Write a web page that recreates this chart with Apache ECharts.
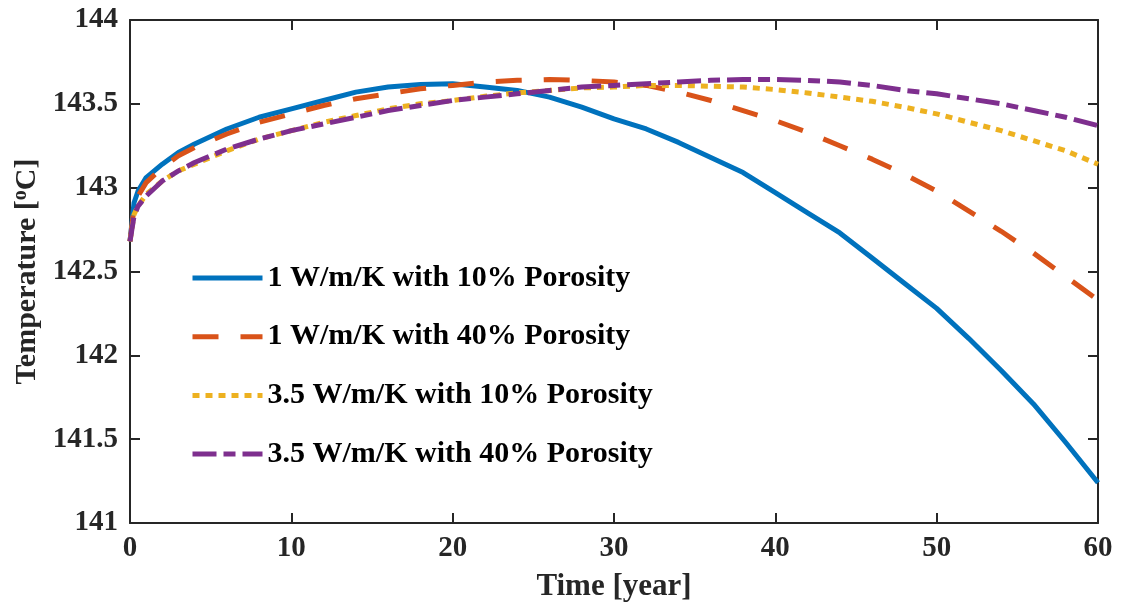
<!DOCTYPE html>
<html>
<head>
<meta charset="utf-8">
<script src="https://cdn.jsdelivr.net/npm/echarts@6/dist/echarts.min.js"></script>
<style>
html,body{margin:0;padding:0;background:#fff;}
#chart{width:1121px;height:612px;}
</style>
</head>
<body>
<div id="chart"></div>
<script>
const years = [0,0.25,0.5,1,2,3,4,6,8,10,12,14,16,18,20,22,24,26,28,30,32,34,36,38,40,42,44,46,48,50,52,54,56,58,60];
const k1p10 = [142.68,142.91,142.98,143.06,143.14,143.21,143.26,143.35,143.42,143.47,143.52,143.57,143.60,143.615,143.62,143.60,143.58,143.54,143.48,143.41,143.35,143.27,143.18,143.09,142.97,142.85,142.73,142.58,142.43,142.28,142.10,141.91,141.71,141.48,141.24];
const k1p40 = [142.68,142.88,142.95,143.03,143.12,143.19,143.24,143.32,143.39,143.44,143.49,143.53,143.56,143.59,143.61,143.63,143.64,143.645,143.64,143.63,143.61,143.57,143.52,143.46,143.40,143.33,143.25,143.17,143.08,142.98,142.86,142.74,142.61,142.47,142.33];
const k35p10 = [142.68,142.84,142.89,142.96,143.04,143.10,143.14,143.22,143.29,143.34,143.39,143.43,143.47,143.50,143.52,143.545,143.565,143.58,143.595,143.60,143.61,143.61,143.605,143.60,143.585,143.565,143.54,143.515,143.48,143.44,143.39,143.34,143.28,143.22,143.14];
const k35p40 = [142.68,142.83,142.89,142.95,143.04,143.10,143.15,143.23,143.29,143.34,143.38,143.42,143.46,143.49,143.52,143.54,143.56,143.58,143.60,143.61,143.62,143.63,143.64,143.645,143.645,143.64,143.63,143.61,143.58,143.56,143.53,143.50,143.46,143.42,143.37];
const seriesNames = ['1 W/m/K with 10% Porosity','1 W/m/K with 40% Porosity','3.5 W/m/K with 10% Porosity','3.5 W/m/K with 40% Porosity'];
const xTicks = {min:0, max:60, interval:10};
const yTicks = {min:141, max:144, interval:0.5};

const FONT = "'Liberation Serif','Times New Roman',serif";
const AX = '#262626';
function pairs(v){ return years.map((t,i)=>[t, v[i]]); }

const styles = [
  {color:'#0072BD', type:'solid'},
  {color:'#D95319', type:[26,22]},
  {color:'#EDB120', type:[7,6]},
  {color:'#7E2F8E', type:[24,7,12,7]}
];
const datas = [k1p10,k1p40,k35p10,k35p40];

const axisBase = {
  axisLine:{show:true, onZero:false, lineStyle:{color:AX, width:2}},
  axisTick:{show:true, inside:true, length:10, lineStyle:{color:AX, width:2}},
  splitLine:{show:false}
};

const chart = echarts.init(document.getElementById('chart'), null, {renderer:'canvas'});
chart.setOption({
  animation:false,
  backgroundColor:'#fff',
  grid:{left:130, right:23, top:20, bottom:89, containLabel:false},
  legend:{
    orient:'vertical', left:190, top:263, padding:0,
    itemWidth:70, itemHeight:28, itemGap:28.7,
    itemStyle:{color:'transparent', borderWidth:0, opacity:0},
    lineStyle:{width:5, cap:'butt'},
    textStyle:{fontFamily:FONT, fontWeight:'bold', fontSize:30, color:'#000', lineHeight:30},
    data:seriesNames
  },
  xAxis:[
    Object.assign({type:'value', position:'bottom', min:xTicks.min, max:xTicks.max, interval:xTicks.interval,
      name:'Time [year]', nameLocation:'middle', nameGap:48,
      nameTextStyle:{fontFamily:FONT, fontWeight:'bold', fontSize:31, color:AX},
      axisLabel:{fontFamily:FONT, fontWeight:'bold', fontSize:29, color:AX, margin:11}}, axisBase),
    Object.assign({type:'value', position:'top', min:xTicks.min, max:xTicks.max, interval:xTicks.interval,
      axisLabel:{show:false}}, axisBase)
  ],
  yAxis:[
    Object.assign({type:'value', position:'left', min:yTicks.min, max:yTicks.max, interval:yTicks.interval,
      name:'Temperature [{sup|o}C]', nameLocation:'middle', nameGap:84,
      nameTextStyle:{fontFamily:FONT, fontWeight:'bold', fontSize:30, color:AX,
        rich:{sup:{fontFamily:FONT, fontWeight:'bold', fontSize:20, color:AX, verticalAlign:'top', padding:[0,0,12,0]}}},
      axisLabel:{fontFamily:FONT, fontWeight:'bold', fontSize:29, color:AX, margin:12}}, axisBase),
    Object.assign({type:'value', position:'right', min:yTicks.min, max:yTicks.max, interval:yTicks.interval,
      axisLabel:{show:false}}, axisBase)
  ],
  series: seriesNames.map((n,i)=>({
    name:n, type:'line', xAxisIndex:0, yAxisIndex:0,
    data:pairs(datas[i]), showSymbol:false, symbol:'none', smooth:false,
    itemStyle:{color:styles[i].color},
    lineStyle:{color:styles[i].color, width:5, type:styles[i].type, cap:'butt', join:'round'},
    z:2+i
  }))
});
</script>
</body>
</html>
